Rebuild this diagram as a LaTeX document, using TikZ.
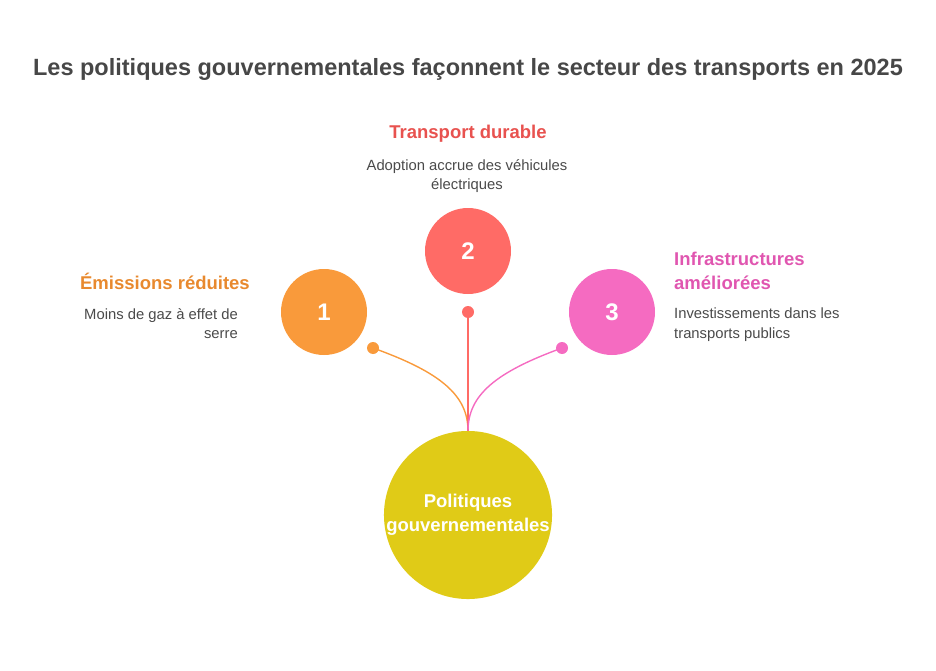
\documentclass[tikz,border=0pt]{standalone}
\usepackage{fontspec}
\setmainfont{Liberation Sans}
\usepackage{xcolor}
\definecolor{titlegray}{HTML}{474747}
\definecolor{textgray}{HTML}{4A4A4A}
\definecolor{orangefill}{HTML}{F99A3B}
\definecolor{orangetext}{HTML}{E8892E}
\definecolor{redfill}{HTML}{FF6B66}
\definecolor{redtext}{HTML}{E8524F}
\definecolor{pinkfill}{HTML}{F56BC1}
\definecolor{pinktext}{HTML}{E056B0}
\definecolor{yellowfill}{HTML}{E0CB17}
\tikzset{
	bubble/.style={circle, minimum size=86pt, inner sep=0pt, text=white, font=\fontsize{24}{26}\selectfont\bfseries},
	knob/.style={circle, minimum size=12pt, inner sep=0pt},
	heading/.style={font=\fontsize{18.5}{24}\selectfont\bfseries, inner sep=0pt},
	blurb/.style={font=\fontsize{14.8}{19.5}\selectfont, text=textgray, inner sep=0pt},
	link/.style={line width=1.4pt},
}

\begin{document}
\begin{tikzpicture}[x=1pt, y=-1pt]
	% Frame and title:
	\useasboundingbox (0, 0) rectangle (936, 671);
	\node[font=\fontsize{23.5}{26}\selectfont\bfseries, text=titlegray] (title) at (468, 69){Les politiques gouvernementales façonnent le secteur des transports en 2025};
	% Bubbles:
	\node[bubble, fill=orangefill] (one) at (324, 312){1};
	\node[bubble, fill=redfill] (two) at (468, 251){2};
	\node[bubble, fill=pinkfill] (three) at (612, 312){3};
	\node[circle, minimum size=166pt, inner sep=0pt, fill=yellowfill, text=white, align=center, font=\fontsize{18.5}{23}\selectfont\bfseries] (pol) at (468, 515){Politiques\\[1pt]gouvernementales};
	% Knobs and links:
	\node[knob, fill=orangefill] (k1) at (373, 348){};
	\node[knob, fill=redfill] (k2) at (468, 312){};
	\node[knob, fill=pinkfill] (k3) at (562, 348){};
	\draw[link, orangefill] (k1.center) .. controls (440, 372) and (468, 395) .. (pol.north);
	\draw[link, redfill] (k2.center) -- (pol.north);
	\draw[link, pinkfill] (k3.center) .. controls (496, 372) and (468, 395) .. (pol.north);
	% Labels:
	\node[heading, text=orangetext, anchor=east] (h1) at (250, 281){Émissions réduites};
	\node[blurb, anchor=north east, align=right] (d1) at (238, 308){Moins de gaz à effet de\\serre};
	\node[heading, text=redtext] (h2) at (468, 134){Transport durable};
	\node[blurb, anchor=north, align=center] (d2) at (467, 159){Adoption accrue des véhicules\\électriques};
	\node[heading, text=pinktext, anchor=north west, align=left] (h3) at (674, 252){Infrastructures\\améliorées};
	\node[blurb, anchor=north west, align=left] (d3) at (674, 308){Investissements dans les\\transports publics};
\end{tikzpicture}
\end{document}
